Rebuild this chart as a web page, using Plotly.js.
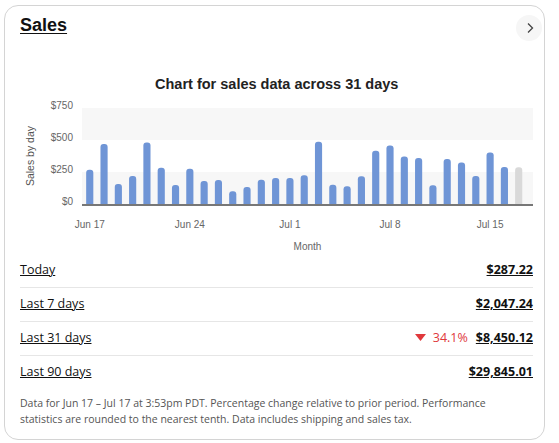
<!DOCTYPE html>
<html>
<head>
<meta charset="utf-8">
<script src="https://cdn.plot.ly/plotly-3.0.1.min.js"></script>
<style>
  html, body { margin: 0; padding: 0; background: #fff; }
  body { width: 559px; height: 443px; position: relative; overflow: hidden; font-family: "Open Sans", sans-serif; }
  .card { position: absolute; left: 4px; top: 5px; width: 541px; height: 435px; border: 1px solid #d4d4d4; border-radius: 14px; box-sizing: border-box; }
  .head { position: absolute; left: 20px; top: 15px; font: bold 18px "Liberation Sans", Arial, sans-serif; color: #111; text-decoration: underline; text-underline-offset: 2px; }
  .chev { position: absolute; left: 516px; top: 15px; width: 26px; height: 26px; border-radius: 50%; background: #f6f6f6; }
  .chev svg { position: absolute; left: 9px; top: 7px; }
  #chart { position: absolute; left: 0; top: 0; width: 559px; height: 260px; }
  .row { position: absolute; left: 20px; width: 513px; height: 20px; font-size: 12.5px; color: #111; }
  .row .lab { position: absolute; left: 0; top: 0; text-decoration: underline; }
  .row .right { position: absolute; right: 0; top: 0; display: flex; align-items: center; white-space: nowrap; }
  .row .val { font-weight: 700; text-decoration: underline; }
  .row .chg { color: #e0383c; margin-right: 8px; display: flex; align-items: center; }
  .sep { position: absolute; left: 20px; width: 513px; height: 1px; background: #e6e6e6; }
  .foot { position: absolute; left: 20px; top: 395px; width: 525px; font-size: 10.5px; line-height: 16px; color: #555; }
</style>
</head>
<body>
<div class="card"></div>
<div class="head">Sales</div>
<div class="chev"><svg width="10" height="12" viewBox="0 0 10 12"><path d="M3 1.5 L7.5 6 L3 10.5" fill="none" stroke="#444" stroke-width="1.3"/></svg></div>
<div id="chart"></div>

<div class="row" style="top:261px"><span class="lab">Today</span><span class="right"><span class="val" id="v0"></span></span></div>
<div class="sep" style="top:287px"></div>
<div class="row" style="top:295px"><span class="lab">Last 7 days</span><span class="right"><span class="val" id="v1"></span></span></div>
<div class="sep" style="top:321px"></div>
<div class="row" style="top:329px"><span class="lab">Last 31 days</span><span class="right"><span class="chg"><svg width="11" height="8" viewBox="0 0 11 8" style="margin-right:7px"><path d="M0 0 L11 0 L5.5 7 Z" fill="#e0383c"/></svg>34.1%</span><span class="val" id="v2"></span></span></div>
<div class="sep" style="top:355px"></div>
<div class="row" style="top:363px"><span class="lab">Last 90 days</span><span class="right"><span class="val" id="v3"></span></span></div>
<div class="foot">Data for Jun 17 – Jul 17 at 3:53pm PDT. Percentage change relative to prior period. Performance<br>statistics are rounded to the nearest tenth. Data includes shipping and sales tax.</div>

<script>
// Daily sales, Jun 17 – Jul 17 (last day is today, still in progress)
const startDate = '2023-06-17';
const dailySales = [268, 469, 156, 219, 481, 284, 148, 276, 180, 187, 99,
                    133, 190, 203, 203, 224, 487, 151, 138, 216, 416, 458,
                    372, 359, 146, 351, 325, 219, 403, 289, 287.22];
const tickDates = ['2023-06-17', '2023-06-24', '2023-07-01', '2023-07-08', '2023-07-15'];
const yTicks = [0, 250, 500, 750];
const yTickText = ['$0', '$250', '$500', '$750'];

// Period totals
const summaryValues = ['$287.22', '$2,047.24', '$8,450.12', '$29,845.01'];
summaryValues.forEach((v, i) => { document.getElementById('v' + i).textContent = v; });

const days = dailySales.map((_, i) => {
  const d = new Date(startDate + 'T12:00:00Z');
  d.setUTCDate(d.getUTCDate() + i);
  return d.toISOString().slice(0, 10);
});
const barColors = dailySales.map((_, i) => i === dailySales.length - 1 ? '#d9d9d9' : '#6f95d6');

const trace = {
  type: 'bar',
  x: days,
  y: dailySales,
  marker: { color: barColors, cornerradius: 3 },
  hoverinfo: 'skip'
};

const layout = {
  width: 559, height: 260,
  margin: { l: 82, r: 26, t: 108, b: 56 },
  paper_bgcolor: 'rgba(0,0,0,0)',
  plot_bgcolor: 'rgba(0,0,0,0)',
  bargap: 0.5,
  showlegend: false,
  font: { family: '"Liberation Sans", Arial, sans-serif', size: 10, color: '#666' },
  title: {
    text: 'Chart for sales data across 31 days',
    font: { family: '"Liberation Sans", Arial, sans-serif', size: 14.5, color: '#222', weight: 'bold' },
    xref: 'container', x: 0.495, xanchor: 'center',
    yref: 'container', y: 1 - 84 / 260, yanchor: 'middle'
  },
  xaxis: {
    type: 'date',
    range: ['2023-06-16 11:00', '2023-07-18 00:00'],
    tickvals: tickDates,
    tickformat: '%b %-d',
    showgrid: false, zeroline: false,
    showline: true, linecolor: '#777', linewidth: 1.5,
    ticks: '', ticklabelstandoff: 10,
    tickfont: { size: 10, color: '#666' },
    title: { text: 'Month', font: { size: 10, color: '#666' }, standoff: 14 }
  },
  yaxis: {
    range: [0, 750],
    tickvals: yTicks, ticktext: yTickText,
    showgrid: false, zeroline: false, showline: false,
    ticks: '', ticklabelstandoff: 8, ticklabelshift: -3,
    tickfont: { size: 10, color: '#666' },
    title: { text: 'Sales by day', font: { size: 10.5, color: '#555' }, standoff: 14 }
  },
  shapes: [
    { type: 'rect', xref: 'paper', yref: 'y', x0: 0, x1: 1, y0: 0, y1: 250, fillcolor: '#f7f7f7', line: { width: 0 }, layer: 'below' },
    { type: 'rect', xref: 'paper', yref: 'y', x0: 0, x1: 1, y0: 500, y1: 750, fillcolor: '#f7f7f7', line: { width: 0 }, layer: 'below' }
  ]
};

Plotly.newPlot('chart', [trace], layout, { displayModeBar: false, staticPlot: true });
</script>
</body>
</html>
